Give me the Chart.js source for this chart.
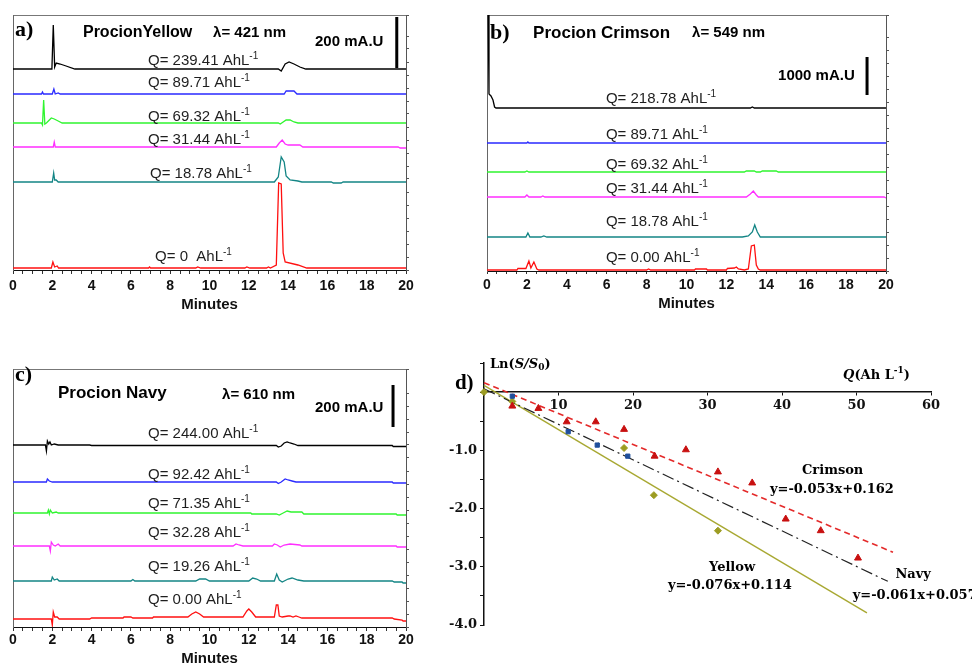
<!DOCTYPE html>
<html>
<head>
<meta charset="utf-8">
<script src="https://cdn.jsdelivr.net/npm/chart.js@4.4.1/dist/chart.umd.min.js"></script>
<style>
    body { margin: 0; background: #fff; }
    #page { position: relative; width: 972px; height: 666px; overflow: hidden; background: #fff; }
    canvas { position: absolute; }
</style>
</head>
<body>
<div id="page">
    <canvas id="chartA" width="430" height="320" style="left:0;top:0"></canvas>
    <canvas id="chartB" width="440" height="320" style="left:470px;top:0"></canvas>
    <canvas id="chartC" width="430" height="320" style="left:0;top:350px"></canvas>
    <canvas id="chartD" width="532" height="326" style="left:440px;top:340px"></canvas>
</div>
<script>
// ---------- data: chromatograms (minutes, signal above the trace baseline) ----------
const minuteTicks = [0, 2, 4, 6, 8, 10, 12, 14, 16, 18, 20];

// a) Procion Yellow, 421 nm
const yellowQ = ['239.41', '89.71', '69.32', '31.44', '18.78', '0 '];
const yellowBase = [201, 176, 147, 123, 88, 2];
const yellowPeaks = [
    [[0,0],[1.98,0],[2.05,44],[2.12,2],[2.2,6],[2.4,5],[2.7,3],[3.15,0],[13.5,0],[13.65,-2],[13.85,5],[14.05,7],[14.3,5],[14.6,2],[14.9,0],[20,0]],
    [[0,0],[1.45,0],[1.5,2],[1.55,0],[2.0,0],[2.08,5],[2.15,0],[2.3,1],[2.4,0],[13.8,0],[13.9,3],[14.3,3],[14.45,0],[20,0]],
    [[0,0],[1.45,0],[1.5,-2],[1.56,23],[1.62,-1],[1.7,0],[1.85,3],[1.95,5],[2.1,4],[2.3,2],[2.5,0],[13.5,0],[13.6,-1],[13.9,3],[14.1,3],[14.3,1],[14.5,0],[20,0]],
    [[0,0],[2.05,0],[2.1,5],[2.15,0],[13.4,0],[13.55,4],[13.7,7],[13.85,3],[14.0,2],[14.6,2],[14.75,0],[19.6,0],[19.7,-1],[20,-1]],
    [[0,0],[2.0,0],[2.07,9],[2.12,2],[2.2,2],[2.3,0],[13.3,0],[13.5,5],[13.65,25],[13.8,20],[13.9,6],[14.1,2],[14.5,1],[14.7,0],[16.2,0],[16.3,-1],[16.7,-1],[16.8,0],[20,0]],
    [[0,0],[1.95,0],[2.03,6],[2.12,1],[2.25,2],[2.32,0],[6.9,0],[6.95,1],[7.0,0],[9.3,0],[9.4,1],[9.55,0],[11.8,0],[11.9,1],[12.05,0],[12.9,0],[13.0,1],[13.1,0],[13.4,3],[13.52,85],[13.65,84],[13.75,15],[13.85,6],[14.5,3],[14.95,0],[20,0]]
];

// b) Procion Crimson, 549 nm
const crimsonQ = ['218.78', '89.71', '69.32', '31.44', '18.78', '0.00'];
const crimsonBase = [163, 128, 99, 74, 34, 1];
const crimsonPeaks = [
    [[0,95],[0.06,95],[0.1,14],[0.2,12],[0.3,8],[0.38,1],[0.45,0],[13.2,0],[13.3,1],[13.4,0],[20,0]],
    [[0,0],[2.0,0],[2.05,1],[2.1,0],[20,0]],
    [[0,0],[1.9,0],[2.0,1],[2.1,0],[12.9,0],[13.0,1],[13.4,1],[13.5,0],[13.7,0],[13.8,1],[14.5,1],[14.6,0],[20,0]],
    [[0,0],[1.9,0],[2.0,2],[2.1,0],[2.7,0],[2.8,1],[2.9,0],[13.0,0],[13.2,3],[13.35,6],[13.5,2],[13.6,0],[19.9,0],[20,-1]],
    [[0,0],[1.95,0],[2.05,4],[2.15,0],[2.7,0],[2.85,1],[3.0,0],[12.8,0],[13.1,1],[13.3,5],[13.42,12],[13.55,5],[13.7,0],[20,0]],
    [[0,0],[1.5,0],[1.55,1.5],[1.95,1.5],[2.1,9],[2.2,2],[2.35,8],[2.5,1],[2.6,0],[8.0,0],[8.1,1],[8.2,0],[10.4,0],[10.45,1],[11.0,1],[11.05,0],[12.0,0],[12.05,1.5],[12.4,2],[12.5,3],[12.6,1],[12.9,0],[13.1,1],[13.25,24],[13.4,25],[13.5,5],[13.6,1],[13.7,0],[20,0]]
];

// c) Procion Navy, 610 nm
const navyQ = ['244.00', '92.42', '71.35', '32.28', '19.26', '0.00'];
const navyBase = [182, 145, 114, 81, 46, 8];
const navyPeaks = [
    [[0,0],[1.65,0],[1.7,-6],[1.75,4],[1.82,1],[1.88,3],[1.95,0],[2.1,1],[2.3,0],[3.9,0],[4.0,-0.5],[13.4,-0.5],[13.5,-2],[13.65,-1],[13.8,2],[13.95,3],[14.1,2],[14.3,1],[14.5,-0.5],[19.3,-0.5],[19.35,-1.5],[20,-1.5]],
    [[0,0],[1.7,0],[1.75,3],[1.85,1],[2.0,0],[13.4,0],[13.5,-1.5],[13.65,0],[13.85,3],[14.0,2],[14.2,1],[14.4,0],[19.3,0],[19.35,-1],[20,-1]],
    [[0,0],[1.75,0],[1.8,3],[1.85,-1],[1.9,3],[2.0,0],[2.2,1],[2.3,0],[12.1,0],[12.15,-1],[13.4,-1],[13.55,-2],[13.75,0],[13.95,2],[14.15,1],[14.7,1],[14.8,-1],[19.5,-1],[19.55,-2],[20,-2]],
    [[0,0],[1.85,0],[1.9,-5],[1.95,4],[2.05,1],[2.15,0],[2.3,2],[2.4,0],[11.2,0],[11.35,2],[11.5,1],[11.7,0],[13.2,0],[13.3,2],[13.45,1],[13.6,-1],[13.8,1],[14.1,2],[14.6,1],[14.7,0],[19.5,0],[19.55,-1],[20,-1]],
    [[0,0],[1.95,0],[2.0,4],[2.1,1],[2.25,2],[2.35,0],[6.0,0],[6.1,1.5],[6.2,0],[9.3,0],[9.5,2],[9.8,2],[10.0,0],[12.0,0],[12.2,3],[12.4,2],[12.6,0],[13.3,0],[13.42,7],[13.55,1],[13.7,-1],[14.0,2],[14.2,3],[14.5,1],[14.8,0],[19.3,0],[19.4,-1],[19.8,-1],[19.85,-2],[20,-2]],
    [[0,0],[1.95,0],[2.0,-6],[2.05,7],[2.12,2],[2.25,2],[2.35,0],[3.9,0],[4.0,1],[5.6,1],[5.65,2],[6.0,2],[6.1,1],[7.1,1],[7.15,2],[8.9,2],[9.1,5],[9.3,7],[9.5,5],[9.7,2],[11.7,2],[11.9,8],[12.0,10],[12.15,7],[12.35,2],[13.3,2],[13.4,14],[13.48,14],[13.55,3],[13.7,2],[14.0,3],[14.1,3],[14.25,2],[14.4,3],[14.55,2],[14.7,1],[19.3,1],[19.4,0],[19.8,-1],[19.85,-2],[20,-2]]
];

// ---------- data: d) Ln(S/S0) against Q ----------
const qTicks = [10, 20, 30, 40, 50, 60];
const lnTicks = [-1, -2, -3, -4];
const crimsonPtsQ = [3.8, 7.3, 11.1, 15.0, 18.8, 22.9, 27.1, 31.4, 36.0, 40.5, 45.2, 50.2];
const crimsonPtsLn = [-0.24, -0.28, -0.51, -0.51, -0.64, -1.10, -0.99, -1.37, -1.56, -2.18, -2.38, -2.85];
const navyPtsQ = [3.8, 11.3, 15.2, 19.3];
const navyPtsLn = [-0.07, -0.68, -0.91, -1.10];
const yellowPtsQ = [0, 3.8, 18.8, 22.8, 31.4];
const yellowPtsLn = [0, -0.16, -0.96, -1.77, -2.38];
// fit lines, end points
const crimsonFit = [[0, 0.162], [54.9, -2.75]];
const navyFit = [[0, 0.057], [54.2, -3.25]];
const yellowFit = [[0, 0.114], [51.4, -3.79]];

// ---------- styles ----------
const traceColors = ['#000000', '#2a2aff', '#2ff52f', '#ff2eff', '#138585', '#ff1010'];
const SANS = "'Liberation Sans', Arial, sans-serif";
const SERIF = "'Liberation Serif', 'Times New Roman', serif";
const DSERIF = "'DejaVu Serif', serif";

// text notes drawn in data coordinates; parts may be sup / sub / italic
function notesPlugin(items) {
    return {
        id: 'notes',
        afterDatasetsDraw(chart) {
            const ctx = chart.ctx;
            const xs = chart.scales.x, ys = chart.scales.y;
            items.forEach(n => {
                const parts = n.parts.map(p => typeof p === 'string' ? { t: p } : Object.assign({}, p));
                const fontFor = p => {
                    const s = (p.sup || p.sub) ? Math.round(n.size * 0.66) : n.size;
                    return (p.italic ? 'italic ' : '') + (n.bold ? 'bold ' : '') + s + 'px ' + n.family;
                };
                ctx.save();
                ctx.fillStyle = n.color || '#000';
                ctx.textBaseline = 'middle';
                let total = 0;
                parts.forEach(p => { ctx.font = fontFor(p); p.w = ctx.measureText(p.t).width; total += p.w; });
                let px = xs.getPixelForValue(n.x);
                const py = ys.getPixelForValue(n.y);
                if (n.align === 'center') px -= total / 2;
                parts.forEach(p => {
                    ctx.font = fontFor(p);
                    const dy = p.sup ? -n.size * 0.35 : (p.sub ? n.size * 0.3 : 0);
                    ctx.fillText(p.t, px, py + dy);
                    px += p.w;
                });
                ctx.restore();
            });
        }
    };
}

//===============================================================
// chromatogram panels a), b), c)
function chromatogram(L, qList, base, peaks) {
    const sets = peaks.map((pts, i) => ({
        label: 'Q= ' + qList[i],
        data: pts.map(p => ({ x: p[0], y: base[i] + p[1] })),
        borderColor: traceColors[i],
        borderWidth: 1.3,
        pointRadius: 0,
        tension: 0
    }));
    // scale bar (mA.U)
    sets.push({
        label: 'bar',
        data: [{ x: L.bar[0], y: L.bar[1] }, { x: L.bar[0], y: L.bar[2] }],
        borderColor: '#000', borderWidth: 3, pointRadius: 0
    });

    const notes = L.titles.slice();
    qList.forEach((q, i) => {
        notes.push({ parts: ['Q= ' + q + ' AhL', { t: '-1', sup: true }], x: L.qX[i], y: L.qY[i],
                     size: 15, family: SANS, color: '#1e1e1e' });
    });

    return new Chart(document.getElementById(L.canvas), {
        type: 'line',
        data: { datasets: sets },
        options: {
            responsive: false,
            animation: false,
            devicePixelRatio: 1,
            layout: { padding: { left: L.padL, top: L.padT, right: L.padR, bottom: 0 } },
            plugins: { legend: { display: false }, tooltip: { enabled: false } },
            scales: {
                x: {
                    type: 'linear', min: 0, max: 20,
                    afterFit: s => { s.height = L.xH; },
                    ticks: {
                        stepSize: 0.5, autoSkip: false, maxRotation: 0, padding: L.tickPad,
                        color: '#111', font: { family: SANS, size: 14, weight: 'bold' },
                        callback: v => minuteTicks.includes(v) ? String(v) : ''
                    },
                    grid: { drawOnChartArea: false, tickLength: L.tickLen, color: '#333' },
                    border: { color: '#111', width: 1 },
                    title: {
                        display: true, text: 'Minutes', color: '#111',
                        font: { family: SANS, size: 15, weight: 'bold' },
                        padding: { top: 0, bottom: L.titlePadB }
                    }
                },
                top: {
                    type: 'linear', position: 'top', min: 0, max: 20,
                    ticks: { display: false }, grid: { display: false },
                    border: { color: '#777' },
                    afterFit: s => { s.height = 0; }
                },
                y: {
                    min: 0, max: L.yMax,
                    ticks: { display: false }, grid: { display: false },
                    border: { color: '#666' },
                    afterFit: s => { s.width = 0; }
                },
                right: {
                    position: 'right', min: 0, max: L.yMax,
                    ticks: { display: false, stepSize: 13 },
                    grid: { drawOnChartArea: false, tickLength: 3, color: '#555' },
                    border: { color: '#555' },
                    afterFit: s => { s.width = 3; }
                }
            }
        },
        plugins: [notesPlugin(notes)]
    });
}

const titleA = [
    { parts: ['a)'], x: 0.1, y: 240, size: 22, bold: true, family: SERIF },
    { parts: ['ProcionYellow'], x: 3.56, y: 237, size: 16, bold: true, family: SANS },
    { parts: ['\u03bb= 421 nm'], x: 10.18, y: 237, size: 15, bold: true, family: SANS },
    { parts: ['200 mA.U'], x: 15.37, y: 228, size: 15, bold: true, family: SANS }
];
const titleB = [
    { parts: ['b)'], x: 0.15, y: 238, size: 22, bold: true, family: SERIF },
    { parts: ['Procion Crimson'], x: 2.31, y: 238, size: 17, bold: true, family: SANS },
    { parts: ['\u03bb= 549 nm'], x: 10.28, y: 238, size: 15, bold: true, family: SANS },
    { parts: ['1000 mA.U'], x: 14.59, y: 195, size: 15, bold: true, family: SANS }
];
const titleC = [
    { parts: ['c)'], x: 0.1, y: 252, size: 22, bold: true, family: SERIF },
    { parts: ['Procion Navy'], x: 2.29, y: 234, size: 17, bold: true, family: SANS },
    { parts: ['\u03bb= 610 nm'], x: 10.64, y: 232, size: 15, bold: true, family: SANS },
    { parts: ['200 mA.U'], x: 15.37, y: 219, size: 15, bold: true, family: SANS }
];

chromatogram({ canvas: 'chartA', padL: 13, padT: 15, padR: 21, xH: 50, yMax: 255, tickLen: 4, tickPad: 4, titlePadB: 6,
               qX: [6.87, 6.87, 6.87, 6.87, 6.97, 7.23], qY: [209, 187, 153, 130, 96, 13],
               bar: [19.53, 202, 253], titles: titleA }, yellowQ, yellowBase, yellowPeaks);

chromatogram({ canvas: 'chartB', padL: 17, padT: 15, padR: 21, xH: 49, yMax: 256, tickLen: 3, tickPad: 3, titlePadB: 7,
               qX: [5.96, 5.96, 5.96, 5.96, 5.96, 5.96], qY: [172, 136, 106, 82, 49, 13],
               bar: [19.05, 176, 214], titles: titleB }, crimsonQ, crimsonBase, crimsonPeaks);

chromatogram({ canvas: 'chartC', padL: 13, padT: 19, padR: 21, xH: 43, yMax: 258, tickLen: 4, tickPad: 1, titlePadB: 2,
               qX: [6.87, 6.87, 6.87, 6.87, 6.87, 6.87], qY: [193, 152, 123, 94, 60, 27],
               bar: [19.34, 200, 242], titles: titleC }, navyQ, navyBase, navyPeaks);

//===============================================================
// panel d) linear fits
const toXY = (xs, ys) => xs.map((x, i) => ({ x: x, y: ys[i] }));
const fitXY = f => f.map(p => ({ x: p[0], y: p[1] }));

const notesD = [
    { parts: ['d)'], x: -3.9, y: 0.15, size: 21, bold: true, family: SERIF },
    { parts: ['Ln(', { t: 'S/S', italic: true }, { t: '0', sub: true }, ')'], x: 0.8, y: 0.48, size: 13, bold: true, family: DSERIF },
    { parts: [{ t: 'Q', italic: true }, '(Ah L', { t: '-1', sup: true }, ')'], x: 48.2, y: 0.29, size: 13, bold: true, family: DSERIF },
    { parts: ['Crimson'], x: 46.8, y: -1.34, size: 13, bold: true, family: DSERIF, align: 'center' },
    { parts: ['y=-0.053x+0.162'], x: 46.7, y: -1.68, size: 13, bold: true, family: DSERIF, align: 'center' },
    { parts: ['Yellow'], x: 33.3, y: -3.01, size: 13, bold: true, family: DSERIF, align: 'center' },
    { parts: ['y=-0.076x+0.114'], x: 33.0, y: -3.33, size: 13, bold: true, family: DSERIF, align: 'center' },
    { parts: ['Navy'], x: 57.6, y: -3.14, size: 13, bold: true, family: DSERIF, align: 'center' },
    { parts: ['y=-0.061x+0.057'], x: 49.5, y: -3.49, size: 13, bold: true, family: DSERIF }
];

new Chart(document.getElementById('chartD'), {
    type: 'scatter',
    data: {
        datasets: [
            { label: 'Crimson', data: toXY(crimsonPtsQ, crimsonPtsLn), pointStyle: 'triangle', pointRadius: 4,
              backgroundColor: '#c81010', borderColor: '#c81010', borderWidth: 1, clip: false },
            { label: 'Navy', data: toXY(navyPtsQ, navyPtsLn), pointStyle: 'rect', pointRadius: 3,
              backgroundColor: '#1f4f9c', borderColor: '#1f4f9c', borderWidth: 1, clip: false },
            { label: 'Yellow', data: toXY(yellowPtsQ, yellowPtsLn), pointStyle: 'rectRot', pointRadius: 3.5,
              backgroundColor: '#9c9c22', borderColor: '#9c9c22', borderWidth: 1, clip: false },
            { label: 'Crimson fit', data: fitXY(crimsonFit), showLine: true, pointRadius: 0,
              borderColor: '#e42a2a', borderWidth: 1.6, borderDash: [6, 4], clip: false },
            { label: 'Navy fit', data: fitXY(navyFit), showLine: true, pointRadius: 0,
              borderColor: '#222', borderWidth: 1.2, borderDash: [12, 4, 2, 4], clip: false },
            { label: 'Yellow fit', data: fitXY(yellowFit), showLine: true, pointRadius: 0,
              borderColor: '#a8a832', borderWidth: 1.4, clip: false }
        ]
    },
    options: {
        responsive: false,
        animation: false,
        devicePixelRatio: 1,
        layout: { padding: { left: 0, top: 23, right: 41, bottom: 41 } },
        plugins: { legend: { display: false }, tooltip: { enabled: false } },
        scales: {
            x: {
                type: 'linear', min: 0, max: 60, position: { y: 0 },
                ticks: {
                    stepSize: 10, autoSkip: false, maxRotation: 0, padding: 3, color: '#111',
                    font: { family: DSERIF, size: 13, weight: 'bold' },
                    callback: v => qTicks.includes(v) ? String(v) : ''
                },
                grid: { drawOnChartArea: false, tickLength: 3, color: '#111' },
                border: { color: '#111', width: 1.5 }
            },
            y: {
                min: -4, max: 0.5,
                afterFit: s => { s.width = 44; },
                ticks: {
                    stepSize: 0.5, autoSkip: false, padding: 3, color: '#111',
                    font: { family: DSERIF, size: 13, weight: 'bold' },
                    callback: v => lnTicks.includes(v) ? v.toFixed(1) : ''
                },
                grid: { drawOnChartArea: false, tickLength: 4, color: '#111' },
                border: { color: '#111', width: 1.5 }
            }
        }
    },
    plugins: [notesPlugin(notesD)]
});
</script>
</body>
</html>
